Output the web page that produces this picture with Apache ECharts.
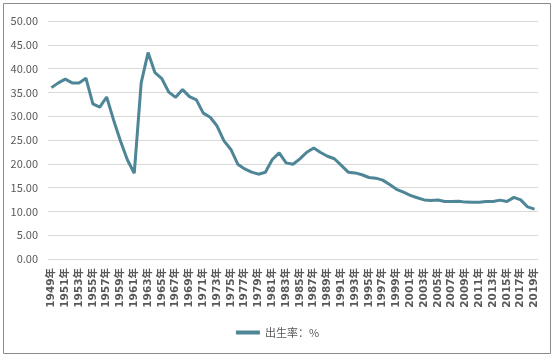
<!DOCTYPE html>
<html>
<head>
<meta charset="utf-8">
<script src="https://cdn.jsdelivr.net/npm/echarts@6/dist/echarts.min.js"></script>
<style>
html,body{margin:0;padding:0;background:#fff;}
#chart{width:555px;height:358px;}
</style>
</head>
<body>
<div id="chart"></div>
<script>
const years = [];
for (let y = 1949; y <= 2019; y++) years.push(y + '年');
const seriesName = '出生率：%';
const birthRate = [
  36.00, 37.00, 37.80, 37.00, 37.00, 37.97, 32.60, 31.90, 34.03, 29.22,
  24.78, 20.86, 18.02, 37.01, 43.37, 39.14, 37.88, 35.05, 33.96, 35.59,
  34.11, 33.43, 30.65, 29.77, 27.93, 24.82, 23.01, 19.91, 18.93, 18.25,
  17.82, 18.21, 20.91, 22.28, 20.19, 19.90, 21.04, 22.43, 23.33, 22.37,
  21.58, 21.06, 19.68, 18.24, 18.09, 17.70, 17.12, 16.98, 16.57, 15.64,
  14.64, 14.03, 13.38, 12.86, 12.41, 12.29, 12.40, 12.09, 12.10, 12.14,
  11.95, 11.90, 11.93, 12.10, 12.08, 12.37, 12.07, 12.95, 12.43, 10.94,
  10.48
];

const chart = echarts.init(document.getElementById('chart'));
chart.setOption({
  animation: false,
  backgroundColor: '#fff',
  graphic: [{
    type: 'rect',
    shape: { x: 3.5, y: 3.5, width: 547, height: 350 },
    style: { fill: 'none', stroke: '#8a8a8a', lineWidth: 1 },
    silent: true
  }],
  grid: { left: 48, right: 17, top: 21, bottom: 99, containLabel: false },
  legend: {
    data: [seriesName],
    bottom: 15,
    left: 'center',
    itemWidth: 24,
    itemHeight: 4,
    icon: 'rect',
    itemGap: 2,
    textStyle: { fontSize: 11, color: '#595959', fontFamily: 'Noto Sans CJK SC' }
  },
  xAxis: {
    type: 'category',
    data: years,
    boundaryGap: true,
    axisLine: { show: false },
    axisTick: { show: false },
    axisLabel: {
      interval: 1,
      rotate: 90,
      margin: 9,
      fontSize: 10.5,
      fontWeight: 'bold',
      color: '#595959',
      fontFamily: 'DejaVu Sans, Noto Sans CJK SC'
    }
  },
  yAxis: {
    type: 'value',
    min: 0,
    max: 50,
    interval: 5,
    axisLine: { show: false },
    axisTick: { show: false },
    splitLine: { lineStyle: { color: '#d9d9d9', width: 1 } },
    axisLabel: {
      margin: 10,
      fontSize: 11,
      color: '#595959',
      fontFamily: 'Noto Sans CJK SC',
      formatter: v => v.toFixed(2)
    }
  },
  series: [{
    name: seriesName,
    type: 'line',
    data: birthRate,
    symbol: 'none',
    lineStyle: { color: '#4e8698', width: 3 },
    itemStyle: { color: '#4e8698' }
  }]
});
</script>
</body>
</html>
